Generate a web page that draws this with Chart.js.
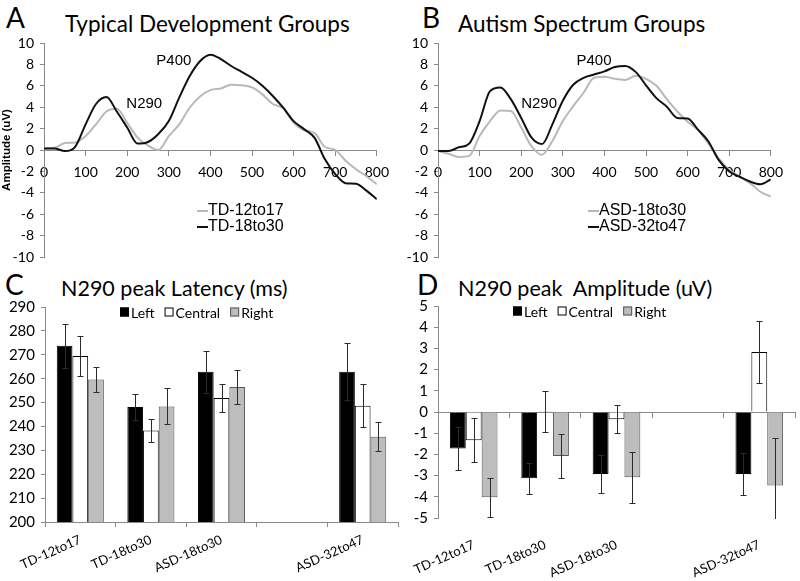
<!DOCTYPE html>
<html>
<head>
<meta charset="utf-8">
<script src="https://cdn.jsdelivr.net/npm/chart.js@4.4.1/dist/chart.umd.min.js"></script>
<style>
  html, body { margin: 0; padding: 0; background: #fff; }
  #page { position: relative; width: 800px; height: 581px; overflow: hidden; font-family: Lato, sans-serif; color: #000; }
  .letter { position: absolute; font-size: 28px; line-height: 28px; white-space: nowrap; }
  .title { position: absolute; font-size: 22.5px; line-height: 22px; white-space: nowrap; }
  .sub { font-size: 21.5px; }
  .box { position: absolute; }
</style>
</head>
<body>
<div id="page">
  <div class="letter" style="left:6px;top:3px">A</div>
  <div class="title" style="left:65px;top:13px">Typical Development Groups</div>
  <div class="letter" style="left:422px;top:3px">B</div>
  <div class="title" style="left:458px;top:13px">Autism Spectrum Groups</div>
  <div class="letter" style="left:5px;top:270px">C</div>
  <div class="title sub" style="left:61px;top:277px">N290 peak Latency (ms)</div>
  <div class="letter" style="left:417px;top:270px">D</div>
  <div class="title sub" style="left:458px;top:277px">N290 peak&nbsp; Amplitude (uV)</div>

  <div class="box" style="left:0;top:28px"><canvas id="chartA" width="398" height="244"></canvas></div>
  <div class="box" style="left:394px;top:28px"><canvas id="chartB" width="398" height="244"></canvas></div>
  <div class="box" style="left:0;top:292px"><canvas id="chartC" width="400" height="289"></canvas></div>
  <div class="box" style="left:393px;top:291px"><canvas id="chartD" width="405" height="290"></canvas></div>
</div>
<script>
// ERP waveforms, sampled every 25 ms
const timesMs = [0, 25, 50, 75, 100, 125, 150, 175, 200, 225, 250, 275, 300, 325, 350, 375, 400,
  425, 450, 475, 500, 525, 550, 575, 600, 625, 650, 675, 700, 725, 750, 775, 800];
const td12to17 = [0.15, 0.2, 0.65, 0.7, 1.3, 2.4, 3.6, 3.85, 2.55, 1.15, 0.4, 0.0, 1.3, 2.4, 3.95, 5.0, 5.6,
  5.75, 6.1, 6.05, 5.85, 5.2, 4.3, 3.9, 2.55, 1.85, 1.6, 0.3, 0.0, -1.0, -1.8, -2.45, -3.2];
const td18to30 = [0.15, 0.15, -0.1, 0.3, 2.4, 4.3, 4.95, 3.6, 2.1, 0.6, 0.75, 1.5, 2.7, 4.9, 6.9, 8.3, 8.9,
  8.5, 7.85, 7.3, 6.75, 6.0, 5.05, 3.95, 2.7, 1.95, 1.15, -0.85, -2.25, -3.1, -3.15, -3.8, -4.6];
const asd18to30 = [-0.1, -0.35, -0.65, -0.55, 1.3, 2.7, 3.7, 3.65, 2.1, 0.35, -0.45, 0.85, 2.7, 4.1, 5.35, 6.75, 6.85,
  6.65, 6.55, 6.95, 6.65, 6.0, 4.75, 3.6, 2.65, 1.85, 0.6, -0.8, -1.85, -2.5, -3.1, -3.9, -4.35];
const asd32to47 = [-0.1, -0.1, 0.25, 0.6, 2.7, 5.5, 5.85, 4.75, 3.0, 1.15, 0.55, 2.4, 4.6, 6.1, 6.75, 7.05, 7.35,
  7.75, 7.85, 7.3, 6.05, 4.85, 4.05, 3.0, 2.95, 1.9, 0.8, -0.95, -2.0, -2.5, -2.95, -3.2, -2.75];

// peak annotations (ms, uV)
const peakNames = ['N290', 'P400'];
const peakMsA = [241, 312];
const peakUvA = [4.3, 8.3];
const peakMsB = [243, 375];
const peakUvB = [4.3, 8.3];

// bar panels
const groups = ['TD-12to17', 'TD-18to30', 'ASD-18to30', '', 'ASD-32to47'];
const sites = ['Left', 'Central', 'Right'];
const latencyLeft = [273.8, 248.1, 262.9, null, 262.9];
const latencyCentral = [269.5, 238.3, 251.9, null, 248.7];
const latencyRight = [259.6, 248.4, 256.5, null, 235.7];
const latencyLeftErr = [9.2, 5.3, 8.7, null, 11.9];
const latencyCentralErr = [8.4, 4.9, 5.8, null, 9.1];
const latencyRightErr = [5.3, 7.5, 7.3, null, 6.0];
const amplitudeLeft = [-1.72, -3.13, -2.93, null, -2.93];
const amplitudeCentral = [-1.33, 0.03, -0.34, null, 2.83];
const amplitudeRight = [-4.02, -2.07, -3.08, null, -3.47];
const amplitudeLeftErr = [1.0, 0.74, 0.89, null, 0.98];
const amplitudeCentralErr = [1.04, 0.98, 0.67, null, 1.45];
const amplitudeRightErr = [0.91, 1.05, 1.21, null, 2.23];

const axisGray = '#8a8a8a';
const lightLine = '#b8b8b8';
const darkLine = '#111111';
const siteFill = ['#000000', '#ffffff', '#bdbdbd'];
const siteBorder = ['#000000', '#000000', '#555555'];

Chart.defaults.font.family = 'Lato, sans-serif';
Chart.defaults.color = '#000';

// error bars drawn over the bars
const errorBars = {
  id: 'errorBars',
  afterDatasetsDraw(chart) {
    const ctx = chart.ctx;
    const area = chart.chartArea;
    const yScale = chart.scales.y;
    ctx.save();
    ctx.beginPath();
    ctx.rect(area.left, area.top, area.right - area.left, area.bottom - area.top + 1);
    ctx.clip();
    ctx.strokeStyle = '#2b2b2b';
    ctx.lineWidth = 1;
    chart.data.datasets.forEach((ds, i) => {
      if (!ds.errors) return;
      chart.getDatasetMeta(i).data.forEach((bar, j) => {
        const v = ds.data[j];
        const e = ds.errors[j];
        if (v == null || e == null) return;
        const x = Math.round(bar.x) + 0.5;
        const top = Math.round(yScale.getPixelForValue(v + e)) + 0.5;
        const bottom = Math.round(yScale.getPixelForValue(v - e)) + 0.5;
        ctx.beginPath();
        ctx.moveTo(x, top); ctx.lineTo(x, bottom);
        ctx.moveTo(x - 3, top); ctx.lineTo(x + 3, top);
        ctx.moveTo(x - 3, bottom); ctx.lineTo(x + 3, bottom);
        ctx.stroke();
      });
    });
    ctx.restore();
  }
};

// Excel-like legend with small squares, sitting inside the plot
const squareLegend = {
  id: 'squareLegend',
  afterDraw(chart) {
    const ctx = chart.ctx;
    let x = chart.chartArea.left + 75;
    const y = chart.chartArea.top + 5;
    ctx.save();
    ctx.font = '14px Lato';
    ctx.textBaseline = 'middle';
    chart.data.datasets.forEach(ds => {
      ctx.fillStyle = ds.backgroundColor;
      ctx.fillRect(x, y - 4.5, 9, 9);
      ctx.strokeStyle = ds.borderColor;
      ctx.lineWidth = 1;
      ctx.strokeRect(x + 0.5, y - 4, 8, 8);
      ctx.fillStyle = '#000';
      ctx.fillText(ds.label, x + 11, y + 1);
      x += 11 + ctx.measureText(ds.label).width + 10;
    });
    ctx.restore();
  }
};

// line legend + peak names for the waveform panels
const waveExtras = {
  id: 'waveExtras',
  afterDraw(chart) {
    const ctx = chart.ctx;
    const area = chart.chartArea;
    const opts = chart.options.plugins.waveExtras;
    ctx.save();
    ctx.font = '15px "Liberation Sans"';
    ctx.fillStyle = '#000';
    ctx.textAlign = 'center';
    ctx.textBaseline = 'middle';
    opts.names.forEach((name, i) => {
      ctx.fillText(name, chart.scales.x.getPixelForValue(opts.ms[i]), chart.scales.y.getPixelForValue(opts.uv[i]));
    });
    ctx.font = '16px "Liberation Sans"';
    ctx.textAlign = 'left';
    chart.data.datasets.forEach((ds, i) => {
      const x = area.left + opts.legendX;
      const y = area.top + 168 + i * 16;
      ctx.strokeStyle = ds.borderColor;
      ctx.lineWidth = 2;
      ctx.beginPath();
      ctx.moveTo(x, y); ctx.lineTo(x + 11, y);
      ctx.stroke();
      ctx.fillStyle = '#000';
      ctx.fillText(ds.label, x + 11, y);
    });
    ctx.restore();
  }
};

function points(series) {
  return timesMs.map((t, i) => ({ x: t, y: series[i] }));
}

function waveChart(id, labels, lightSeries, darkSeries, ms, uv, legendX, yTitle) {
  return new Chart(document.getElementById(id), {
    type: 'line',
    data: {
      datasets: [
        { label: labels[0], data: points(lightSeries), borderColor: lightLine, borderWidth: 2, pointRadius: 0, cubicInterpolationMode: 'monotone', order: 1 },
        { label: labels[1], data: points(darkSeries), borderColor: darkLine, borderWidth: 2, pointRadius: 0, cubicInterpolationMode: 'monotone', order: 0 }
      ]
    },
    options: {
      responsive: false,
      animation: false,
      layout: { padding: { top: 15, right: 15, bottom: 15, left: 0 } },
      plugins: {
        legend: { display: false },
        tooltip: { enabled: false },
        waveExtras: { names: peakNames, ms: ms, uv: uv, legendX: legendX }
      },
      scales: {
        x: {
          type: 'linear', min: 0, max: 800, position: { y: 0 },
          afterFit: s => { s.height = 0; },
          border: { color: axisGray },
          grid: { drawOnChartArea: false, tickLength: 5, color: axisGray },
          ticks: { stepSize: 100, padding: 9, font: { size: 14 }, maxRotation: 0, autoSkip: false }
        },
        y: {
          min: -10, max: 10,
          afterFit: s => { s.width = 44; },
          border: { color: axisGray },
          grid: { drawOnChartArea: false, tickLength: 4, color: axisGray },
          ticks: { stepSize: 2, padding: 6, font: { size: 14 }, autoSkip: false },
          title: { display: yTitle, text: 'Amplitude (uV)', padding: 0, font: { family: '"Liberation Sans"', weight: 'bold', size: 11.5 } }
        }
      }
    },
    plugins: [waveExtras]
  });
}

function barSets(values, errors) {
  return sites.map((s, i) => ({
    label: s, data: values[i], errors: errors[i],
    backgroundColor: siteFill[i], borderColor: siteBorder[i], borderWidth: 1,
    categoryPercentage: 0.667, barPercentage: 1
  }));
}

function draw() {
  waveChart('chartA', ['TD-12to17', 'TD-18to30'], td12to17, td18to30, peakMsA, peakUvA, 153, true);
  waveChart('chartB', ['ASD-18to30', 'ASD-32to47'], asd18to30, asd32to47, peakMsB, peakUvB, 150, false);

  new Chart(document.getElementById('chartC'), {
    type: 'bar',
    data: { labels: groups, datasets: barSets([latencyLeft, latencyCentral, latencyRight], [latencyLeftErr, latencyCentralErr, latencyRightErr]) },
    options: {
      responsive: false,
      animation: false,
      layout: { padding: { top: 15, right: 2, bottom: 0, left: 0 } },
      plugins: { legend: { display: false }, tooltip: { enabled: false } },
      scales: {
        x: {
          afterFit: s => { s.height = 59; },
          border: { color: axisGray },
          grid: { drawOnChartArea: false, tickLength: 5, color: axisGray },
          ticks: { minRotation: 24, maxRotation: 24, padding: 5, font: { size: 13 }, autoSkip: false }
        },
        y: {
          min: 200, max: 290,
          afterFit: s => { s.width = 45; },
          border: { color: axisGray },
          grid: { drawOnChartArea: false, tickLength: 4, color: axisGray },
          ticks: { stepSize: 10, padding: 6, font: { size: 15 }, autoSkip: false }
        }
      }
    },
    plugins: [errorBars, squareLegend]
  });

  new Chart(document.getElementById('chartD'), {
    type: 'bar',
    data: { labels: groups, datasets: barSets([amplitudeLeft, amplitudeCentral, amplitudeRight], [amplitudeLeftErr, amplitudeCentralErr, amplitudeRightErr]) },
    options: {
      responsive: false,
      animation: false,
      layout: { padding: { top: 15, right: 3, bottom: 0, left: 0 } },
      plugins: { legend: { display: false }, tooltip: { enabled: false } },
      scales: {
        x: {
          afterFit: s => { s.height = 63; },
          border: { display: false },
          grid: { display: false },
          ticks: { minRotation: 24, maxRotation: 24, padding: 11, font: { size: 13 }, autoSkip: false }
        },
        x2: {
          type: 'category', position: { y: 0 }, offset: true,
          afterFit: s => { s.height = 0; },
          border: { color: axisGray },
          grid: { offset: true, drawOnChartArea: false, tickLength: 5, color: axisGray },
          ticks: { display: false }
        },
        y: {
          min: -5, max: 5,
          afterFit: s => { s.width = 45; },
          border: { color: axisGray },
          grid: { drawOnChartArea: false, tickLength: 4, color: axisGray },
          ticks: { stepSize: 1, padding: 6, font: { size: 15 }, autoSkip: false }
        }
      }
    },
    plugins: [errorBars, squareLegend]
  });
}

Promise.all([
  document.fonts.load('14px Lato'),
  document.fonts.load('15px "Liberation Sans"'),
  document.fonts.load('bold 12px "Liberation Sans"')
]).then(draw, draw);
</script>
</body>
</html>
